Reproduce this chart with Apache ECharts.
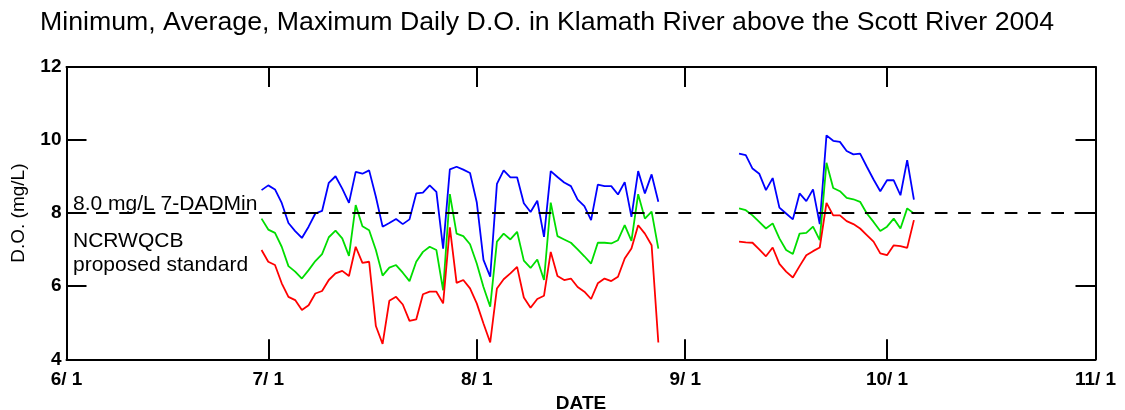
<!DOCTYPE html>
<html>
<head>
<meta charset="utf-8">
<script src="https://cdn.jsdelivr.net/npm/echarts@6/dist/echarts.min.js"></script>
<style>
html,body{margin:0;padding:0;background:#fff;}
#c{width:1125px;height:410px;}
</style>
</head>
<body>
<div id="c"></div>
<script>
// Segment start dates (consecutive daily values follow)
const seg1Start = '2004-06-30';
const seg2Start = '2004-09-09';

// Maximum daily D.O. (mg/L)
const max1 = [8.63,8.76,8.65,8.28,7.73,7.51,7.32,7.63,7.99,8.06,8.83,9.01,8.67,8.28,9.13,9.08,9.17,8.45,7.63,7.73,
  7.84,7.70,7.83,8.54,8.56,8.76,8.58,7.03,9.20,9.27,9.19,9.10,8.30,6.72,6.26,8.80,9.17,8.98,8.98,8.27,
  8.03,8.34,7.35,9.15,8.99,8.84,8.74,8.37,8.19,7.81,8.78,8.74,8.74,8.51,8.85,7.90,9.15,8.54,9.06,8.31];
const max2 = [9.63,9.59,9.22,9.08,8.63,8.96,8.15,7.99,7.83,8.54,8.33,8.65,7.70,10.13,9.98,9.95,9.70,9.61,9.63,9.27,
  8.92,8.60,8.90,8.90,8.49,9.45,8.37];
// Average daily D.O.
const avg1 = [7.85,7.55,7.46,7.08,6.55,6.40,6.21,6.44,6.69,6.88,7.34,7.52,7.31,6.83,8.22,7.64,7.53,6.99,6.29,6.51,
  6.58,6.37,6.14,6.67,6.94,7.08,6.99,5.89,8.52,7.44,7.37,7.15,6.62,5.98,5.44,7.22,7.44,7.28,7.49,6.70,
  6.50,6.73,6.17,8.29,7.37,7.28,7.19,7.01,6.82,6.62,7.19,7.19,7.17,7.26,7.67,7.24,8.52,7.85,8.04,7.03];
const avg2 = [8.13,8.08,7.94,7.76,7.58,7.72,7.31,6.99,6.88,7.44,7.46,7.63,7.26,9.38,8.69,8.60,8.42,8.38,8.31,7.99,
  7.76,7.51,7.63,7.85,7.58,8.13,7.99];
// Minimum daily D.O.
const min1 = [6.99,6.67,6.58,6.08,5.71,5.62,5.35,5.48,5.80,5.87,6.17,6.35,6.42,6.28,7.08,6.64,6.67,4.91,4.42,5.60,
  5.71,5.50,5.05,5.09,5.78,5.85,5.85,5.53,7.61,6.09,6.17,5.94,5.53,4.98,4.46,5.94,6.19,6.35,6.53,5.69,
  5.41,5.65,5.74,6.94,6.28,6.17,6.21,5.98,5.85,5.65,6.08,6.21,6.14,6.26,6.76,7.03,7.67,7.44,7.12,4.46];
const min2 = [7.22,7.20,7.19,7.01,6.82,7.06,6.61,6.40,6.24,6.55,6.85,6.96,7.06,8.28,7.94,7.94,7.78,7.70,7.58,7.40,
  7.22,6.90,6.85,7.12,7.10,7.05,7.81];

// Axis ticks
const tickDates = ['2004-06-01','2004-07-01','2004-08-01','2004-09-01','2004-10-01','2004-11-01'];
const tickLabels = ['6/ 1','7/ 1','8/ 1','9/ 1','10/ 1','11/ 1'];
const standardValue = 8.0;
const standardText = ['8.0 mg/L 7-DADMin', 'NCRWQCB', 'proposed standard'];

const DAY = 86400000;
function dayNum(s){ const p = s.split('-').map(Number); return Math.round((Date.UTC(p[0], p[1]-1, p[2]) - Date.UTC(2004,5,1)) / DAY); }
function seriesData(start1, a1, start2, a2){
  const out = [];
  const d1 = dayNum(start1), d2 = dayNum(start2);
  a1.forEach((v,i)=>out.push([d1 + i, v]));
  out.push([d1 + a1.length + 1, null]);
  a2.forEach((v,i)=>out.push([d2 + i, v]));
  return out;
}
const tickDays = tickDates.map(dayNum);
const labelMap = {};
tickDays.forEach((t,i)=>labelMap[t]=tickLabels[i]);

const FONT = '"Liberation Sans", Arial, Helvetica, sans-serif';
const axisLineStyle = {color:'#000', width:2};

const chart = echarts.init(document.getElementById('c'), null, {renderer:'canvas'});
const baseX = {
  type:'value', min: tickDays[0], max: tickDays[tickDays.length-1],
  axisLine:{show:true, onZero:false, lineStyle:axisLineStyle},
  axisTick:{show:true, inside:true, length:20, lineStyle:{color:'#000', width:2}, customValues: tickDays},
  splitLine:{show:false}, minorTick:{show:false}
};
const baseY = {
  type:'value', min:4, max:12, interval:2,
  axisLine:{show:true, onZero:false, lineStyle:axisLineStyle},
  axisTick:{show:true, inside:true, length:20, lineStyle:{color:'#000', width:2}},
  splitLine:{show:false}
};
const lineCommon = {type:'line', showSymbol:false, symbol:'none', connectNulls:false, silent:true, animation:false};

chart.setOption({
  animation:false,
  backgroundColor:'#fff',
  title:{
    text:'Minimum, Average, Maximum Daily D.O. in Klamath River above the Scott River 2004',
    left:40, top:9, padding:0,
    textStyle:{fontFamily:FONT, fontSize:26.7, fontWeight:'normal', color:'#000'}
  },
  grid:{left:66.5, right:29.5, top:67, bottom:50.7, containLabel:false, outerBoundsMode:'none'},
  xAxis:[
    Object.assign({}, baseX, {
      position:'bottom',
      name:'DATE', nameLocation:'middle', nameGap:31,
      nameTextStyle:{fontFamily:FONT, fontSize:19, fontWeight:'bold', color:'#000'},
      axisLabel:{show:true, customValues: tickDays, margin:11, hideOverlap:false,
        fontFamily:FONT, fontSize:19, fontWeight:'bold', color:'#000',
        formatter:(v)=>labelMap[v] || ''}
    }),
    Object.assign({}, baseX, {position:'top', axisLabel:{show:false}})
  ],
  yAxis:[
    Object.assign({}, baseY, {
      position:'left',
      name:'D.O. (mg/L)', nameLocation:'middle', nameGap:38, nameRotate:90,
      nameTextStyle:{fontFamily:FONT, fontSize:19, fontWeight:'normal', color:'#000'},
      axisLabel:{show:true, margin:5, fontFamily:FONT, fontSize:19, fontWeight:'bold', color:'#000'}
    }),
    Object.assign({}, baseY, {position:'right', axisLabel:{show:false}})
  ],
  series:[
    Object.assign({}, lineCommon, {
      name:'Maximum', data: seriesData(seg1Start, max1, seg2Start, max2),
      lineStyle:{color:'#0000ff', width:1.8}, itemStyle:{color:'#0000ff'}
    }),
    Object.assign({}, lineCommon, {
      name:'Average', data: seriesData(seg1Start, avg1, seg2Start, avg2),
      lineStyle:{color:'#00dd00', width:1.8}, itemStyle:{color:'#00dd00'}
    }),
    Object.assign({}, lineCommon, {
      name:'Minimum', data: seriesData(seg1Start, min1, seg2Start, min2),
      lineStyle:{color:'#ff0000', width:1.8}, itemStyle:{color:'#ff0000'},
      markLine:{
        silent:true, symbol:['none','none'], label:{show:false},
        lineStyle:{color:'#000', width:2, type:[12.7,10.6], dashOffset:17.1},
        data:[{yAxis: standardValue}]
      }
    })
  ],
  graphic:[
    {type:'text', x:73, y:204, silent:true,
      style:{text:standardText[0], font:'21px ' + FONT, fill:'#000', align:'left', verticalAlign:'middle'}},
    {type:'text', x:73, y:241, silent:true,
      style:{text:standardText[1], font:'21px ' + FONT, fill:'#000', align:'left', verticalAlign:'middle'}},
    {type:'text', x:73, y:265, silent:true,
      style:{text:standardText[2], font:'21px ' + FONT, fill:'#000', align:'left', verticalAlign:'middle'}}
  ]
});
</script>
</body>
</html>
